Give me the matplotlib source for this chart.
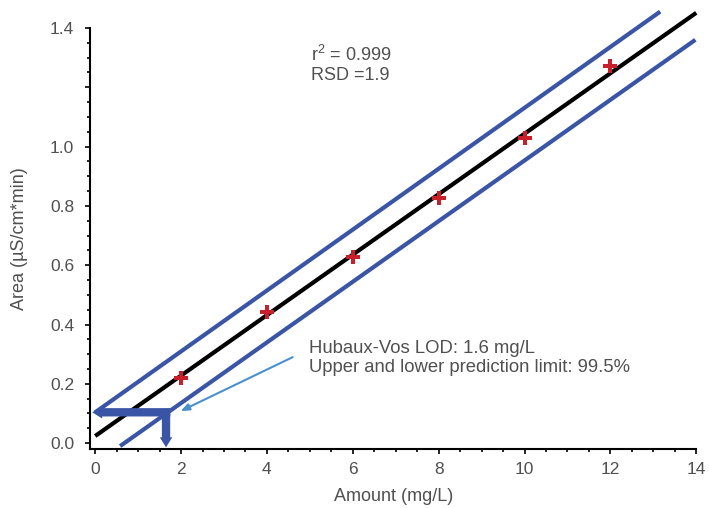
import matplotlib
matplotlib.use("Agg")
import matplotlib.pyplot as plt
from matplotlib.ticker import MultipleLocator, FixedLocator

plt.rcParams["font.family"] = ["Liberation Sans", "DejaVu Sans"]
plt.rcParams["mathtext.default"] = "regular"

# calibration points
amount = [2, 4, 6, 8, 10, 12]
area = [0.219, 0.443, 0.627, 0.827, 1.028, 1.270]

# regression line and prediction limits (end points)
fit_x = [0, 14]
fit_y = [0.024, 1.451]
upper_x = [0, 13.16]
upper_y = [0.104, 1.455]
lower_x = [0.58, 13.98]
lower_y = [-0.01, 1.36]

# Hubaux-Vos LOD
lod_x = 1.65
lod_y = 0.104

y_ticks = [0.0, 0.2, 0.4, 0.6, 0.8, 1.0, 1.2, 1.4]
y_labels = ["0.0", "0.2", "0.4", "0.6", "0.8", "1.0", "", "1.4"]
x_ticks = [0, 2, 4, 6, 8, 10, 12, 14]

text_col = "#505050"
blue = "#3b55a6"
red = "#c8202a"

fig = plt.figure(figsize=(7.09, 5.08), dpi=100)
ax = fig.add_axes([0.127, 0.116, 0.855, 0.829])

ax.plot(upper_x, upper_y, color=blue, lw=3, clip_on=False, solid_capstyle="butt")
ax.plot(lower_x, lower_y, color=blue, lw=3, clip_on=False, solid_capstyle="butt")
ax.plot(fit_x, fit_y, color="black", lw=3, clip_on=False, solid_capstyle="butt", zorder=3)
ax.plot(amount, area, linestyle="none", marker="P", color=red, markersize=9.5,
        markeredgewidth=0, zorder=4, clip_on=False)

# LOD arrows
arrow_kw = dict(arrowstyle="simple,tail_width=0.5,head_width=0.75,head_length=0.6",
                mutation_scale=12, fc=blue, ec="none", lw=0, shrinkA=0, shrinkB=0)
ax.annotate("", xy=(-0.07, lod_y), xytext=(lod_x + 0.1, lod_y), arrowprops=arrow_kw,
            annotation_clip=False)
ax.annotate("", xy=(lod_x, -0.014), xytext=(lod_x, lod_y + 0.012), arrowprops=arrow_kw,
            annotation_clip=False)

# pointer arrow and text
ax.annotate("", xy=(1.99, 0.108), xytext=(4.6, 0.29),
            arrowprops=dict(arrowstyle="-|>,head_width=0.2,head_length=0.5",
                            color="#4a90d0", lw=1.5, shrinkA=0, shrinkB=0))
ax.text(4.99, 0.288, "Hubaux-Vos LOD: 1.6 mg/L\nUpper and lower prediction limit: 99.5%",
        fontsize=13.3, color=text_col, va="center", ha="left", linespacing=1.15)
ax.text(5.02, 1.276, "r$^2$ = 0.999\nRSD =1.9", fontsize=13, color=text_col,
        va="center", ha="left", linespacing=1.12)

ax.set_xlim(-0.12, 14)
ax.set_ylim(-0.02, 1.4)
ax.xaxis.set_major_locator(FixedLocator(x_ticks))
ax.xaxis.set_minor_locator(MultipleLocator(0.5))
ax.yaxis.set_major_locator(FixedLocator(y_ticks))
ax.set_yticklabels(y_labels)
ax.yaxis.set_minor_locator(MultipleLocator(0.05))

for s in ["top", "right"]:
    ax.spines[s].set_visible(False)
for s in ["left", "bottom"]:
    ax.spines[s].set_linewidth(1.5)

ax.tick_params(which="major", length=3.5, width=1.2, labelsize=12.5, labelcolor=text_col)
ax.tick_params(axis="y", which="major", pad=8)
ax.tick_params(axis="x", which="major", pad=6)
ax.tick_params(which="minor", length=2.2, width=1.2)

ax.set_xlabel("Amount (mg/L)", fontsize=13, color=text_col, labelpad=8)
ax.set_ylabel("Area (µS/cm*min)", fontsize=13, color=text_col, labelpad=16)

fig.savefig("out.png", dpi=100)
